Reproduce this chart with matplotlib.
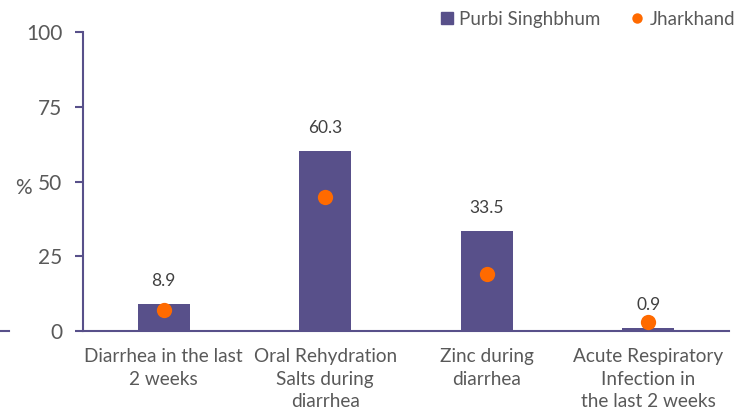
import matplotlib.pyplot as plt
from matplotlib.lines import Line2D

# Data
categories = ["Diarrhea in the last\n2 weeks",
              "Oral Rehydration\nSalts during\ndiarrhea",
              "Zinc during\ndiarrhea",
              "Acute Respiratory\nInfection in\nthe last 2 weeks"]
purbi = [8.9, 60.3, 33.5, 0.9]
jharkhand = [6.9, 44.9, 19.0, 3.0]

barcolor = "#58508a"
dotcolor = "#ff6a00"
txtcolor = "#595959"

plt.rcParams['font.family'] = ['Lato', 'DejaVu Sans']

fig = plt.figure(figsize=(7.36, 4.16), dpi=100)
ax = fig.add_axes([0.1128, 0.2043, 0.8777, 0.7187])

x = range(len(categories))
ax.bar(x, purbi, width=0.32, color=barcolor, zorder=2)
ax.plot(x, jharkhand, 'o', color=dotcolor, markersize=11, markeredgewidth=0, zorder=3)

for xi, v in zip(x, purbi):
    ax.text(xi, v + 5, "{:.1f}".format(v), ha='center', va='bottom',
            fontsize=12.5, color="#404040")

ax.set_xlim(-0.5, len(categories) - 0.5)
ax.set_ylim(0, 100)
ax.set_yticks([0, 25, 50, 75, 100])
ax.set_xticks(list(x))
ax.set_xticklabels(categories, fontsize=13.7, color=txtcolor, linespacing=1.42)
ax.tick_params(axis='x', length=0, pad=12)
ax.tick_params(axis='y', length=6, width=1.5, color=barcolor, labelsize=15,
               labelcolor=txtcolor, pad=9)

for s in ['top', 'right']:
    ax.spines[s].set_visible(False)
for s in ['left', 'bottom']:
    ax.spines[s].set_color(barcolor)
    ax.spines[s].set_linewidth(1.5)

ax.set_ylabel("%", rotation=0, fontsize=15, color=txtcolor, va='center', ha='center')
ax.yaxis.set_label_coords(-0.092, 0.48)

# small stub at the left edge
fig.add_artist(Line2D([0.0, 0.012], [0.2043, 0.2043], color=barcolor, lw=1.5))

# legend handles (smaller than plotted marks, like the original)
sq = Line2D([], [], marker='s', linestyle='none', color=barcolor, markersize=8.5)
dt = Line2D([], [], marker='o', linestyle='none', color=dotcolor, markersize=7.5,
            markeredgewidth=0)
leg = ax.legend([sq, dt], ["Purbi Singhbhum", "Jharkhand"], loc='center right',
                bbox_to_anchor=(1.021, 1.042), ncol=2, frameon=False,
                fontsize=13.5, handlelength=0.7, handletextpad=0.3, columnspacing=1.6,
                borderaxespad=0.0)
for t in leg.get_texts():
    t.set_color(txtcolor)

fig.savefig("out.png", dpi=100)
